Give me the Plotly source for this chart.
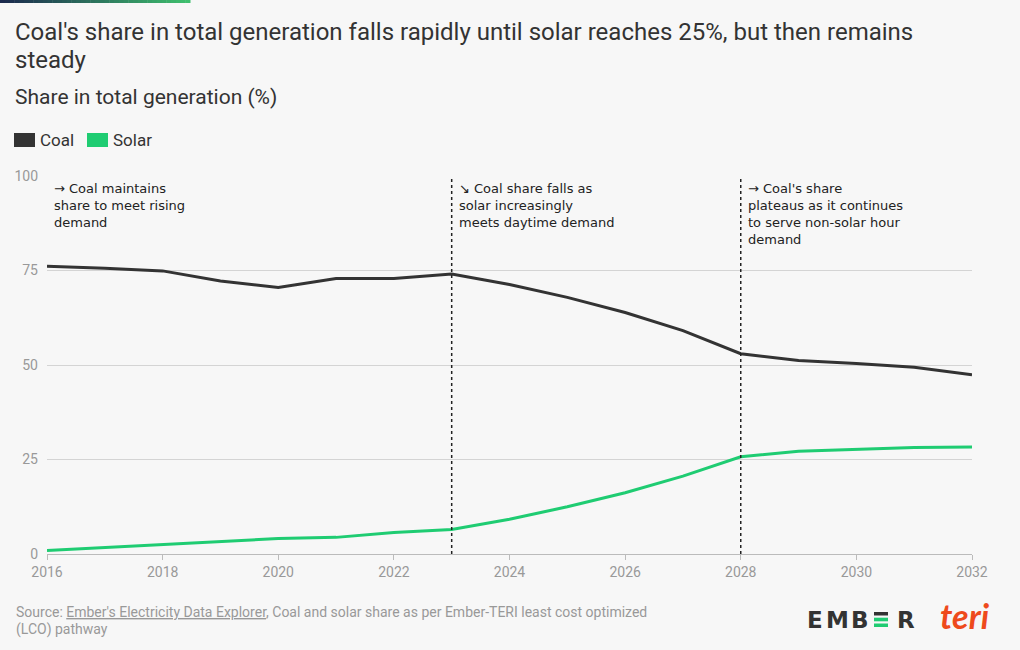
import plotly.graph_objects as go

years = list(range(2016, 2033))
coal = [76.1, 75.6, 74.9, 72.2, 70.5, 72.9, 72.9, 74.1, 71.3, 67.9, 63.9, 59.1, 53.0, 51.2, 50.4, 49.4, 47.4]
solar = [0.9, 1.7, 2.6, 3.4, 4.1, 4.4, 5.7, 6.5, 9.2, 12.5, 16.2, 20.6, 25.7, 27.2, 27.8, 28.2, 28.3]
series_names = ["Coal", "Solar"]
series_colors = ["#333333", "#1fcc72"]
x_ticks = list(range(2016, 2033, 2))
y_ticks = [0, 25, 50, 75, 100]
phase_years = [2016, 2023, 2028]
phase_texts = [
    "→ Coal maintains<br>share to meet rising<br>demand",
    "↘ Coal share falls as<br>solar increasingly<br>meets daytime demand",
    "→ Coal's share<br>plateaus as it continues<br>to serve non-solar hour<br>demand",
]
divider_years = [2023, 2028]
title_lines = ["Coal's share in total generation falls rapidly until solar reaches 25%, but then remains",
               "steady"]
subtitle = "Share in total generation (%)"
source_lines = ["Source: <span style='text-decoration:underline'>Ember's Electricity Data Explorer</span>, "
                "Coal and solar share as per Ember-TERI least cost optimized",
                "(LCO) pathway"]

W, H = 1020, 650
L, R, T, B = 47, 48, 176, 96
PW, PH = W - L - R, H - T - B
BG = "#f7f7f7"
GREY = "#999999"
DARK = "#333333"
FONT = "Roboto"


def px_x(px):
    return (px - L) / PW


def px_y(py):
    return (H - B - py) / PH


fig = go.Figure()
for name, vals, col in zip(series_names, [coal, solar], series_colors):
    fig.add_trace(go.Scatter(x=years, y=vals, mode="lines", name=name,
                             line=dict(color=col, width=3), showlegend=False,
                             hoverinfo="x+y"))

shapes = []
for yr in divider_years:
    shapes.append(dict(type="line", xref="x", yref="paper", x0=yr, x1=yr, y0=0, y1=1,
                       line=dict(color="#222222", width=1.5, dash="dot"), layer="above"))

# gradient strip at top-left
n = 40
c0 = (0x1c, 0x2a, 0x4e)
c1 = (0x3f, 0xbf, 0x6e)
for i in range(n):
    t = i / (n - 1)
    c = tuple(int(a + (b - a) * t) for a, b in zip(c0, c1))
    shapes.append(dict(type="rect", xref="paper", yref="paper",
                       x0=px_x(190 * i / n), x1=px_x(190 * (i + 1) / n + 0.5),
                       y0=px_y(3), y1=px_y(0), line=dict(width=0),
                       fillcolor="rgb(%d,%d,%d)" % c, layer="above"))

annotations = []

# manual legend
legend_pos = [(14, 35, 38), (87, 108, 111)]
for (sx0, sx1, tx), name, col in zip(legend_pos, series_names, series_colors):
    shapes.append(dict(type="rect", xref="paper", yref="paper",
                       x0=px_x(sx0), x1=px_x(sx1), y0=px_y(147), y1=px_y(133),
                       line=dict(width=0), fillcolor=col))
    annotations.append(dict(x=px_x(tx), y=px_y(140), xref="paper", yref="paper", text=name,
                            showarrow=False, xanchor="left", yanchor="middle",
                            font=dict(family=FONT, size=17, color=DARK)))

for yr, txt in zip(phase_years, phase_texts):
    annotations.append(dict(x=yr, y=100, xref="x", yref="y", text=txt, showarrow=False,
                            xanchor="left", yanchor="top", align="left", xshift=5, yshift=-3,
                            font=dict(family="DejaVu Sans", size=13, color="#222222")))

for ty, txt in zip([32, 60], title_lines):
    annotations.append(dict(x=px_x(13), y=px_y(ty), xref="paper", yref="paper", text=txt,
                            showarrow=False, xanchor="left", yanchor="middle",
                            font=dict(family=FONT, size=24, color=DARK)))

annotations.append(dict(x=px_x(13), y=px_y(97), xref="paper", yref="paper",
                        text=subtitle, showarrow=False,
                        xanchor="left", yanchor="middle",
                        font=dict(family=FONT, size=21, color=DARK)))
for sy, txt in zip([612, 629], source_lines):
    annotations.append(dict(x=px_x(14), y=px_y(sy), xref="paper", yref="paper", text=txt,
                            showarrow=False, xanchor="left", yanchor="middle", align="left",
                            font=dict(family=FONT, size=14, color=GREY)))

# EMBER logo (letters placed individually)
for ch, cx in zip(["E", "M", "B", "R"], [814.5, 837.5, 860, 906]):
    annotations.append(dict(x=px_x(cx), y=px_y(619.5), xref="paper", yref="paper", text="<b>%s</b>" % ch,
                            showarrow=False, xanchor="center", yanchor="middle",
                            font=dict(family="DejaVu Sans", size=23, color=DARK)))
for (by0, by1), col in zip([(612, 615.5), (617.7, 621.3), (623.5, 627)], [DARK, "#1fcc72", "#1fcc72"]):
    shapes.append(dict(type="rect", xref="paper", yref="paper",
                       x0=px_x(874), x1=px_x(888), y0=px_y(by1), y1=px_y(by0),
                       line=dict(width=0), fillcolor=col))
annotations.append(dict(x=px_x(992), y=px_y(615), xref="paper", yref="paper",
                        text="<b><i>teri</i></b>",
                        showarrow=False, xanchor="right", yanchor="middle",
                        font=dict(family="Lato", size=34, color="#ee4a1c")))

fig.update_layout(
    width=W, height=H,
    margin=dict(l=L, r=R, t=T, b=B),
    paper_bgcolor=BG, plot_bgcolor=BG,
    showlegend=False,
    shapes=shapes,
    annotations=annotations,
    xaxis=dict(range=[2016, 2032], tickvals=x_ticks, ticks="outside", ticklen=5,
               tickcolor="#bbbbbb", showgrid=False, showline=True, linecolor="#bbbbbb",
               linewidth=1, zeroline=False, fixedrange=True,
               tickfont=dict(family=FONT, size=14, color=GREY)),
    yaxis=dict(range=[0, 100], tickvals=y_ticks, showgrid=True, gridcolor="#d4d4d4",
               gridwidth=1, zeroline=False, showline=False, ticks="", ticklabelstandoff=8,
               tickfont=dict(family=FONT, size=14, color=GREY), fixedrange=True),
    hovermode="closest",
)

fig.write_html("out.html", config={"displayModeBar": False},
               post_script="document.body.style.margin='0';document.body.style.padding='0';"
                           "document.body.style.background='%s';" % BG)
